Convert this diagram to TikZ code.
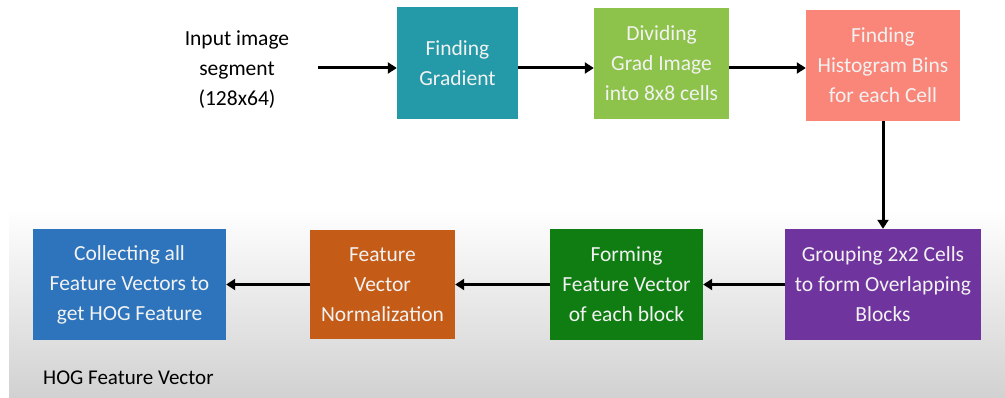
\documentclass[tikz,border=0pt]{standalone}
\usepackage{fontspec}
\setmainfont{Carlito}
\usetikzlibrary{arrows.meta,calc}
\definecolor{cgrad}{HTML}{2499A8}
\definecolor{cdiv}{HTML}{8DC24B}
\definecolor{chist}{HTML}{F98678}
\definecolor{cgroup}{HTML}{6F349D}
\definecolor{cform}{HTML}{0F7D12}
\definecolor{cnorm}{HTML}{C45B16}
\definecolor{ccoll}{HTML}{2D74BC}
\definecolor{boxtext}{HTML}{F2F2F2}
\tikzset{
  stepbox/.style={rectangle, inner sep=0pt, text=boxtext, align=center,
    font=\fontsize{21.5}{30}\selectfont},
  arr/.style={line width=3pt, -{Triangle[length=9pt,width=11pt]}},
}
\begin{document}
\begin{tikzpicture}[x=1pt,y=-1pt]
\useasboundingbox (0,0) rectangle (1005,398);
\fill[white] (0,0) rectangle (1005,398);
\shade[top color=white, bottom color=black!18] (9,208) rectangle (1005,398);
\node[stepbox, fill=cgrad, minimum width=121pt, minimum height=112pt] (grad) at (457.5,63) {Finding\\Gradient};
\node[stepbox, fill=cdiv, minimum width=135pt, minimum height=111pt] (div) at (661.5,63.5) {Dividing\\Grad Image\\into 8x8 cells};
\node[stepbox, fill=chist, minimum width=154pt, minimum height=111pt] (hist) at (883,65.5) {Finding\\Histogram Bins\\for each Cell};
\node[stepbox, fill=cgroup, minimum width=196pt, minimum height=111pt] (group) at (883,284.5) {Grouping 2x2 Cells\\to form Overlapping\\Blocks};
\node[stepbox, fill=cform, minimum width=153pt, minimum height=111pt] (form) at (626.5,284.5) {Forming\\Feature Vector\\of each block};
\node[stepbox, fill=cnorm, minimum width=145pt, minimum height=109pt] (norm) at (382.5,284.5) {Feature\\Vector\\Normalization};
\node[stepbox, fill=ccoll, minimum width=193pt, minimum height=111pt] (coll) at (129.5,284.5) {Collecting all\\Feature Vectors to\\get HOG Feature};
\node[align=center, font=\fontsize{21.5}{30}\selectfont, inner sep=0pt] (input) at (237,70) {Input image\\segment\\(128x64)};
\node[anchor=west, font=\fontsize{21}{24}\selectfont, inner sep=0pt] (hog) at (43,378) {HOG Feature Vector};
\coordinate (start) at (318,68);
\draw[arr] (start) -- (grad.west|-start);
\draw[arr] (grad.east|-start) -- (div.west|-start);
\draw[arr] (div.east|-start) -- (hist.west|-start);
\draw[arr] (hist.south) -- (group.north);
\draw[arr] (group.west) -- (form.east);
\draw[arr] (form.west) -- (norm.east);
\draw[arr] (norm.west) -- (coll.east);
\end{tikzpicture}
\end{document}
